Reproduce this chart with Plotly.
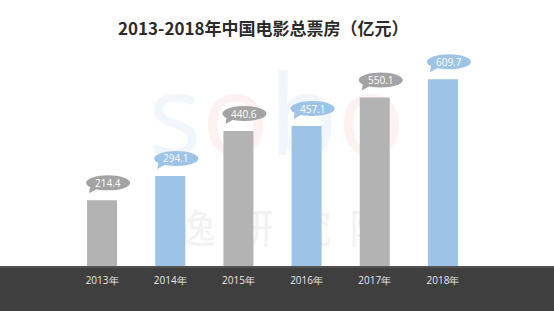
import plotly.graph_objects as go

years = ["2013年", "2014年", "2015年", "2016年", "2017年", "2018年"]
values = [214.4, 294.1, 440.6, 457.1, 550.1, 609.7]
bar_colors = ["#b3b3b3", "#9dc3e6", "#b3b3b3", "#9dc3e6", "#b3b3b3", "#9dc3e6"]
bubble_colors = ["#a3a3a3", "#9dc3e6", "#a3a3a3", "#9dc3e6", "#a3a3a3", "#9dc3e6"]
title_text = "2013-2018年中国电影总票房（亿元）"

xs = list(range(len(years)))

fig = go.Figure()
fig.add_trace(go.Bar(
    x=xs, y=values, width=0.44,
    marker=dict(color=bar_colors, line=dict(width=0)),
    hoverinfo="skip",
))

shapes = []
# dark footer band
shapes.append(dict(type="rect", xref="paper", yref="paper", x0=-0.5, x1=1.5, y0=0, y1=-0.5,
                   fillcolor="#3f3f3f", line=dict(width=0), layer="below"))
shapes.append(dict(type="line", xref="paper", yref="paper", x0=-0.5, x1=1.5, y0=-0.004, y1=-0.004,
                   line=dict(color="#5a5a5a", width=1.5), layer="below"))
# faint watermark
shapes.append(dict(type="rect", xref="paper", yref="paper", x0=0.1, x1=0.92, y0=0.45, y1=0.85,
                   fillcolor="rgba(0,0,0,0)", line=dict(width=0), layer="below",
                   label=dict(text='<span style="color:#f1f6fd">s</span><span style="color:#fdf1f1">o</span>'
                                   '<span style="color:#f1f6fd">b</span><span style="color:#fdf1f1">o</span>',
                              font=dict(size=112, family="Open Sans", color="#f1f6fd"),
                              textposition="middle center")))
shapes.append(dict(type="rect", xref="paper", yref="paper", x0=0.2, x1=0.85, y0=0.05, y1=0.25,
                   fillcolor="rgba(0,0,0,0)", line=dict(width=0), layer="below",
                   label=dict(text="逸\u00a0\u00a0研\u00a0\u00a0究\u00a0\u00a0院",
                              font=dict(size=40, family="Noto Sans CJK SC", color="#f2f2f2"),
                              textposition="middle center")))

annotations = []
for i, v in enumerate(values):
    shapes.append(dict(type="circle", xref="x", yref="y", xsizemode="pixel", ysizemode="pixel",
                       xanchor=i, yanchor=v, x0=-16, x1=28, y0=10, y1=25,
                       fillcolor=bubble_colors[i], line=dict(width=0), layer="above"))
    shapes.append(dict(type="path", xref="x", yref="y", xsizemode="pixel", ysizemode="pixel",
                       xanchor=i, yanchor=v, path="M-12,13 L-13,7 L-4,12 Z",
                       fillcolor=bubble_colors[i], line=dict(width=0), layer="above"))
    annotations.append(dict(x=i, y=v, xref="x", yref="y", text=f"{v:.1f}", showarrow=False,
                            xshift=6, yshift=17.5, yanchor="middle", xanchor="center",
                            font=dict(size=10, color="#ffffff", family="Open Sans")))

annotations.append(dict(x=(263 - 68) / 409, y=1 + (40 - 27) / 226, xref="paper", yref="paper",
                        xanchor="center", yanchor="middle",
                        text=f"<b>{title_text}</b>", showarrow=False,
                        font=dict(size=17, color="#2b2b2b", family="Noto Sans CJK SC")))

fig.update_layout(
    width=554, height=311,
    margin=dict(l=68, r=77, t=40, b=45),
    paper_bgcolor="white", plot_bgcolor="rgba(0,0,0,0)",
    showlegend=False,
    shapes=shapes, annotations=annotations,
    xaxis=dict(range=[-0.5, 5.5], tickvals=xs, ticktext=years, showgrid=False, zeroline=False,
               showline=False, ticks="", ticklabelstandoff=7,
               tickfont=dict(size=10, color="#e8e8e8", family="Open Sans")),
    yaxis=dict(range=[0, 738], visible=False, showgrid=False, zeroline=False),
)

fig.write_html("out.html")
